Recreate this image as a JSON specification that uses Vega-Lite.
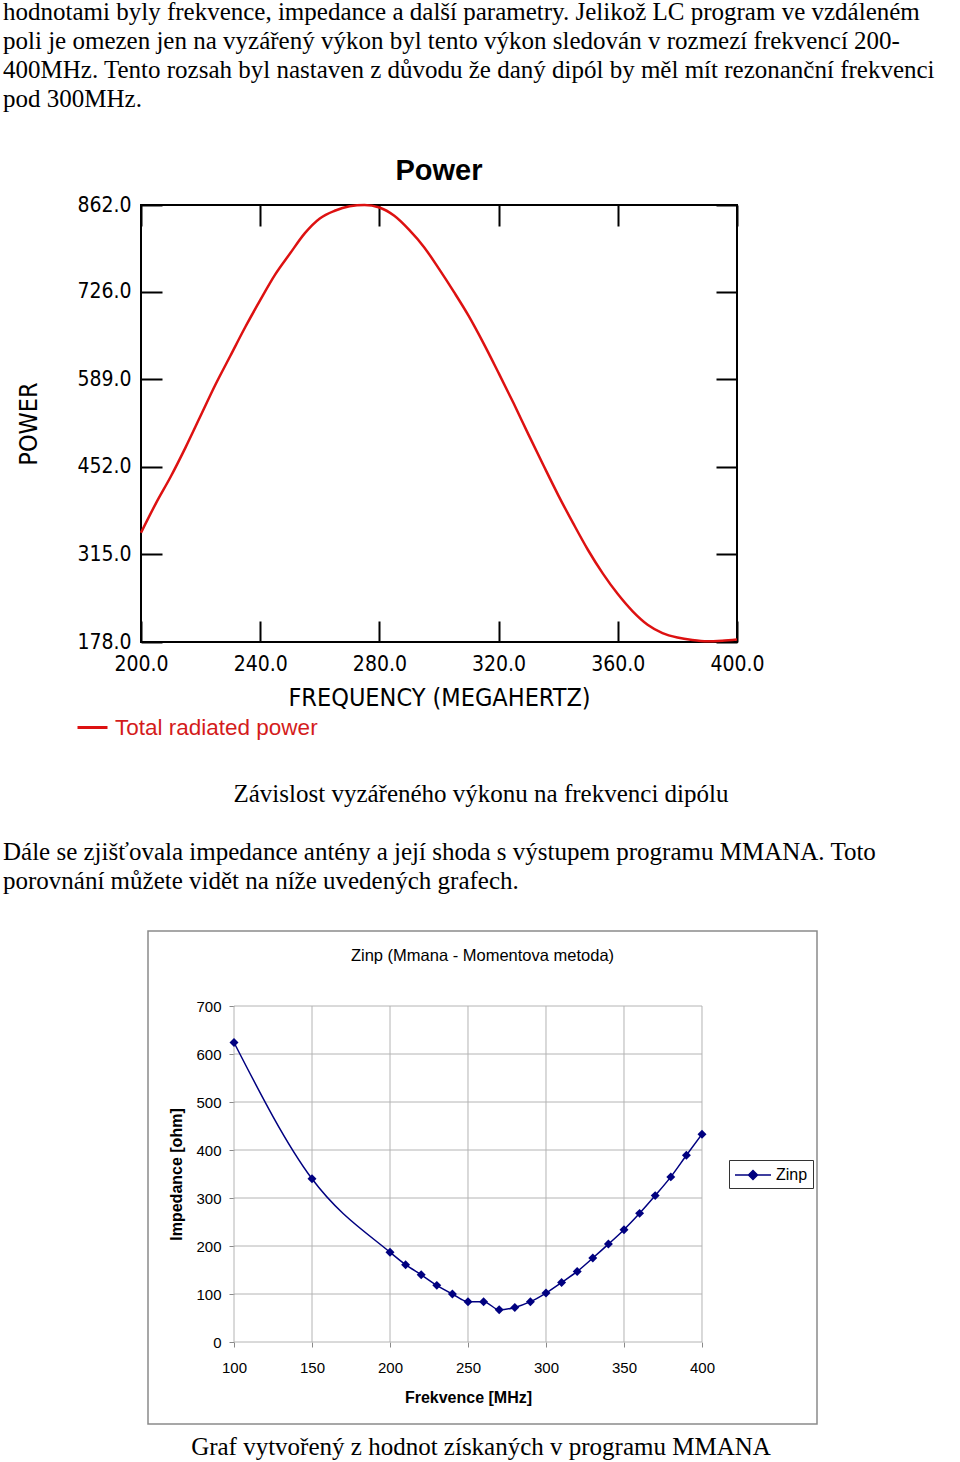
{
  "$schema": "https://vega.github.io/schema/vega-lite/v6.json",
  "padding": 0,
  "background": "white",
  "config": {"view": {"stroke": null}},
  "resolve": {"scale": {"color": "independent"}, "legend": {"color": "independent"}},
  "datasets": {
    "power": [
      {"freq": 200, "power": 349, "series": "Total radiated power"},
      {"freq": 205, "power": 395, "series": "Total radiated power"},
      {"freq": 210, "power": 437, "series": "Total radiated power"},
      {"freq": 215, "power": 483, "series": "Total radiated power"},
      {"freq": 220, "power": 532, "series": "Total radiated power"},
      {"freq": 225, "power": 581, "series": "Total radiated power"},
      {"freq": 230, "power": 626, "series": "Total radiated power"},
      {"freq": 235, "power": 671, "series": "Total radiated power"},
      {"freq": 240, "power": 713, "series": "Total radiated power"},
      {"freq": 245, "power": 753, "series": "Total radiated power"},
      {"freq": 250, "power": 786, "series": "Total radiated power"},
      {"freq": 255, "power": 818, "series": "Total radiated power"},
      {"freq": 260, "power": 841, "series": "Total radiated power"},
      {"freq": 265, "power": 853, "series": "Total radiated power"},
      {"freq": 270, "power": 860, "series": "Total radiated power"},
      {"freq": 275, "power": 862, "series": "Total radiated power"},
      {"freq": 280, "power": 858, "series": "Total radiated power"},
      {"freq": 285, "power": 845, "series": "Total radiated power"},
      {"freq": 290, "power": 823, "series": "Total radiated power"},
      {"freq": 295, "power": 796, "series": "Total radiated power"},
      {"freq": 300, "power": 762, "series": "Total radiated power"},
      {"freq": 305, "power": 726, "series": "Total radiated power"},
      {"freq": 310, "power": 688, "series": "Total radiated power"},
      {"freq": 315, "power": 645, "series": "Total radiated power"},
      {"freq": 320, "power": 599, "series": "Total radiated power"},
      {"freq": 325, "power": 552, "series": "Total radiated power"},
      {"freq": 330, "power": 503, "series": "Total radiated power"},
      {"freq": 335, "power": 455, "series": "Total radiated power"},
      {"freq": 340, "power": 408, "series": "Total radiated power"},
      {"freq": 345, "power": 364, "series": "Total radiated power"},
      {"freq": 350, "power": 322, "series": "Total radiated power"},
      {"freq": 355, "power": 285, "series": "Total radiated power"},
      {"freq": 360, "power": 253, "series": "Total radiated power"},
      {"freq": 365, "power": 226, "series": "Total radiated power"},
      {"freq": 370, "power": 205, "series": "Total radiated power"},
      {"freq": 375, "power": 192, "series": "Total radiated power"},
      {"freq": 380, "power": 185, "series": "Total radiated power"},
      {"freq": 385, "power": 181, "series": "Total radiated power"},
      {"freq": 390, "power": 179, "series": "Total radiated power"},
      {"freq": 395, "power": 180, "series": "Total radiated power"},
      {"freq": 400, "power": 182, "series": "Total radiated power"}
    ],
    "zinp": [
      {"f": 100, "z": 624, "series": "Zinp"},
      {"f": 150, "z": 340, "series": "Zinp"},
      {"f": 200, "z": 187, "series": "Zinp"},
      {"f": 210, "z": 161, "series": "Zinp"},
      {"f": 220, "z": 140, "series": "Zinp"},
      {"f": 230, "z": 118, "series": "Zinp"},
      {"f": 240, "z": 100, "series": "Zinp"},
      {"f": 250, "z": 84, "series": "Zinp"},
      {"f": 260, "z": 84, "series": "Zinp"},
      {"f": 270, "z": 67, "series": "Zinp"},
      {"f": 280, "z": 72, "series": "Zinp"},
      {"f": 290, "z": 84, "series": "Zinp"},
      {"f": 300, "z": 102, "series": "Zinp"},
      {"f": 310, "z": 124, "series": "Zinp"},
      {"f": 320, "z": 147, "series": "Zinp"},
      {"f": 330, "z": 175, "series": "Zinp"},
      {"f": 340, "z": 204, "series": "Zinp"},
      {"f": 350, "z": 234, "series": "Zinp"},
      {"f": 360, "z": 268, "series": "Zinp"},
      {"f": 370, "z": 305, "series": "Zinp"},
      {"f": 380, "z": 344, "series": "Zinp"},
      {"f": 390, "z": 389, "series": "Zinp"},
      {"f": 400, "z": 433, "series": "Zinp"}
    ],
    "xgrid": [{"v": 100}, {"v": 150}, {"v": 200}, {"v": 250}, {"v": 300}, {"v": 350}, {"v": 400}],
    "ygrid": [{"v": 0}, {"v": 100}, {"v": 200}, {"v": 300}, {"v": 400}, {"v": 500}, {"v": 600}, {"v": 700}]
  },
  "title": {
    "text": [
      "hodnotami byly frekvence, impedance a další parametry. Jelikož LC program ve vzdáleném",
      "poli je omezen jen na vyzářený výkon byl tento výkon sledován v rozmezí frekvencí 200-",
      "400MHz. Tento rozsah byl nastaven z důvodu že daný dipól by měl mít rezonanční frekvenci",
      "pod 300MHz."
    ],
    "anchor": "start",
    "frame": "group",
    "dx": 3,
    "font": "Liberation Serif",
    "fontSize": 25,
    "fontWeight": "normal",
    "lineHeight": 29,
    "color": "#000000",
    "offset": 44
  },
  "spacing": 33,
  "vconcat": [
    {
      "resolve": {"scale": {"color": "independent"}, "legend": {"color": "independent"}},
      "title": {
        "text": "Závislost vyzářeného výkonu na frekvenci dipólu",
        "orient": "bottom",
        "anchor": "start",
        "frame": "group",
        "align": "center",
        "dx": 481,
        "font": "Liberation Serif",
        "fontSize": 25,
        "fontWeight": "normal",
        "color": "#000000",
        "offset": 42
      },
      "spacing": 0,
      "hconcat": [
        {"width": 15, "height": 1, "mark": "point", "data": {"values": []}},
        {
          "width": 596,
          "height": 437,
          "view": {"stroke": "#000000", "strokeWidth": 2},
          "title": {
            "text": "Power",
            "font": "Liberation Sans",
            "fontSize": 29,
            "fontWeight": "bold",
            "anchor": "middle",
            "frame": "group",
            "baseline": "alphabetic",
            "offset": -15,
            "color": "#000000"
          },
          "data": {"name": "power"},
          "mark": {"type": "line", "strokeWidth": 2.5, "interpolate": "monotone"},
          "encoding": {
            "x": {
              "field": "freq",
              "type": "quantitative",
              "scale": {"domain": [200, 400], "nice": false, "zero": false},
              "axis": {
                "values": [200, 240, 280, 320, 360, 400],
                "format": ".1f",
                "grid": true,
                "gridDash": [21, 395, 21],
                "gridColor": "#000000",
                "gridWidth": 2,
                "gridOpacity": 1,
                "ticks": false,
                "domain": false,
                "labelFont": "DejaVu Sans Condensed, sans-serif",
                "labelFontSize": 21,
                "labelColor": "#000000",
                "labelPadding": 11,
                "labelFlush": false,
                "labelOverlap": false,
                "title": "FREQUENCY (MEGAHERTZ)",
                "titleFont": "DejaVu Sans Condensed, sans-serif",
                "titleFontSize": 25,
                "titleFontWeight": "normal",
                "titleColor": "#000000",
                "titlePadding": 11
              }
            },
            "y": {
              "field": "power",
              "type": "quantitative",
              "scale": {"domain": [178, 862], "nice": false, "zero": false},
              "axis": {
                "values": [178, 315, 452, 589, 726, 862],
                "format": ".1f",
                "grid": true,
                "gridDash": [21, 554, 21],
                "gridColor": "#000000",
                "gridWidth": 2,
                "gridOpacity": 1,
                "ticks": false,
                "domain": false,
                "labelFont": "DejaVu Sans Condensed, sans-serif",
                "labelFontSize": 21,
                "labelColor": "#000000",
                "labelPadding": 10,
                "labelFlush": false,
                "labelOverlap": false,
                "title": "POWER",
                "titleFont": "DejaVu Sans Condensed, sans-serif",
                "titleFontSize": 25,
                "titleFontWeight": "normal",
                "titleColor": "#000000",
                "titlePadding": 35
              }
            },
            "color": {
              "field": "series",
              "type": "nominal",
              "scale": {"range": ["#dd1111"]},
              "legend": {
                "orient": "none",
                "legendX": -65,
                "legendY": 506,
                "title": null,
                "padding": 0,
                "symbolType": "stroke",
                "symbolSize": 900,
                "symbolStrokeWidth": 3,
                "labelFont": "Liberation Sans",
                "labelFontSize": 22.5,
                "labelColor": "#d41c1c",
                "labelOffset": 6,
                "labelLimit": 400
              }
            }
          }
        }
      ]
    },
    {
      "resolve": {"scale": {"color": "independent"}, "legend": {"color": "independent"}},
      "title": {
        "text": [
          "Dále se zjišťovala impedance antény a její shoda s výstupem programu MMANA. Toto",
          "porovnání můžete vidět na níže uvedených grafech."
        ],
        "anchor": "start",
        "frame": "group",
        "dx": 3,
        "font": "Liberation Serif",
        "fontSize": 25,
        "fontWeight": "normal",
        "lineHeight": 29,
        "color": "#000000",
        "offset": 36
      },
      "vconcat": [
        {
          "resolve": {"scale": {"color": "independent"}, "legend": {"color": "independent"}},
          "title": {
            "text": "Graf vytvořený z hodnot získaných v programu MMANA",
            "orient": "bottom",
            "anchor": "start",
            "frame": "group",
            "align": "center",
            "dx": 481,
            "font": "Liberation Serif",
            "fontSize": 25,
            "fontWeight": "normal",
            "color": "#000000",
            "offset": 10
          },
          "spacing": 0,
          "hconcat": [
            {"width": 147, "height": 1, "mark": "point", "data": {"values": []}},
            {
              "width": 669,
              "height": 493,
              "view": {"stroke": "#8a8a8a", "strokeWidth": 1.5},
              "title": {
                "text": "Zinp (Mmana - Momentova metoda)",
                "font": "Liberation Sans",
                "fontSize": 16.5,
                "fontWeight": "normal",
                "anchor": "middle",
                "frame": "group",
                "baseline": "alphabetic",
                "offset": -46,
                "color": "#000000"
              },
              "layer": [
                {
                  "data": {"name": "xgrid"},
                  "mark": {"type": "rule", "color": "#b4b4b4", "strokeWidth": 1},
                  "encoding": {
                    "x": {"field": "v", "type": "quantitative", "scale": {"domain": [44.87, 473.72], "nice": false, "zero": false},
                      "axis": {"orient": "bottom", "offset": -82, "values": [100, 150, 200, 250, 300, 350, 400], "grid": false, "domain": false, "ticks": true, "tickSize": 5, "tickColor": "#8a8a8a", "tickWidth": 1, "labelFont": "Liberation Sans", "labelFontSize": 15, "labelColor": "#000000", "labelPadding": 13, "labelFlush": false, "labelOverlap": false, "title": "Frekvence [MHz]", "titleFont": "Liberation Sans", "titleFontSize": 16, "titleFontWeight": "bold", "titleColor": "#000000", "titlePadding": 14, "titleX": 320}},
                    "y": {"datum": 0, "type": "quantitative", "scale": {"domain": [-170.83, 856.25], "nice": false, "zero": false},
                      "axis": {"orient": "left", "offset": -86, "values": [0, 100, 200, 300, 400, 500, 600, 700], "grid": false, "domain": false, "ticks": true, "tickSize": 5, "tickColor": "#8a8a8a", "tickWidth": 1, "labelFont": "Liberation Sans", "labelFontSize": 15, "labelColor": "#000000", "labelPadding": 8, "labelFlush": false, "labelOverlap": false, "title": "Impedance [ohm]", "titleFont": "Liberation Sans", "titleFontSize": 16, "titleFontWeight": "bold", "titleColor": "#000000", "titlePadding": 11, "titleY": 243}},
                    "y2": {"datum": 700}
                  }
                },
                {
                  "data": {"name": "ygrid"},
                  "mark": {"type": "rule", "color": "#b4b4b4", "strokeWidth": 1},
                  "encoding": {
                    "y": {"field": "v", "type": "quantitative", "scale": {"domain": [-170.83, 856.25], "nice": false, "zero": false},
                      "axis": {"orient": "left", "offset": -86, "values": [0, 100, 200, 300, 400, 500, 600, 700], "grid": false, "domain": false, "ticks": true, "tickSize": 5, "tickColor": "#8a8a8a", "tickWidth": 1, "labelFont": "Liberation Sans", "labelFontSize": 15, "labelColor": "#000000", "labelPadding": 8, "labelFlush": false, "labelOverlap": false, "title": "Impedance [ohm]", "titleFont": "Liberation Sans", "titleFontSize": 16, "titleFontWeight": "bold", "titleColor": "#000000", "titlePadding": 11, "titleY": 243}},
                    "x": {"datum": 100, "type": "quantitative", "scale": {"domain": [44.87, 473.72], "nice": false, "zero": false},
                      "axis": {"orient": "bottom", "offset": -82, "values": [100, 150, 200, 250, 300, 350, 400], "grid": false, "domain": false, "ticks": true, "tickSize": 5, "tickColor": "#8a8a8a", "tickWidth": 1, "labelFont": "Liberation Sans", "labelFontSize": 15, "labelColor": "#000000", "labelPadding": 13, "labelFlush": false, "labelOverlap": false, "title": "Frekvence [MHz]", "titleFont": "Liberation Sans", "titleFontSize": 16, "titleFontWeight": "bold", "titleColor": "#000000", "titlePadding": 14, "titleX": 320}},
                    "x2": {"datum": 400}
                  }
                },
                {
                  "data": {"name": "zinp"},
                  "mark": {"type": "line", "strokeWidth": 1.5, "interpolate": "monotone"},
                  "encoding": {
                    "x": {"field": "f", "type": "quantitative", "scale": {"domain": [44.87, 473.72], "nice": false, "zero": false},
                      "axis": {"orient": "bottom", "offset": -82, "values": [100, 150, 200, 250, 300, 350, 400], "grid": false, "domain": false, "ticks": true, "tickSize": 5, "tickColor": "#8a8a8a", "tickWidth": 1, "labelFont": "Liberation Sans", "labelFontSize": 15, "labelColor": "#000000", "labelPadding": 13, "labelFlush": false, "labelOverlap": false, "title": "Frekvence [MHz]", "titleFont": "Liberation Sans", "titleFontSize": 16, "titleFontWeight": "bold", "titleColor": "#000000", "titlePadding": 14, "titleX": 320}},
                    "y": {"field": "z", "type": "quantitative", "scale": {"domain": [-170.83, 856.25], "nice": false, "zero": false},
                      "axis": {"orient": "left", "offset": -86, "values": [0, 100, 200, 300, 400, 500, 600, 700], "grid": false, "domain": false, "ticks": true, "tickSize": 5, "tickColor": "#8a8a8a", "tickWidth": 1, "labelFont": "Liberation Sans", "labelFontSize": 15, "labelColor": "#000000", "labelPadding": 8, "labelFlush": false, "labelOverlap": false, "title": "Impedance [ohm]", "titleFont": "Liberation Sans", "titleFontSize": 16, "titleFontWeight": "bold", "titleColor": "#000000", "titlePadding": 11, "titleY": 243}},
                    "color": {
                      "field": "series",
                      "type": "nominal",
                      "scale": {"range": ["#000080"]},
                      "legend": {
                        "orient": "none",
                        "legendX": 581,
                        "legendY": 229,
                        "title": null,
                        "padding": 5,
                        "strokeColor": "#333333",
                        "fillColor": "#ffffff",
                        "symbolType": "M-1,0H3M1,-0.5L1.5,0L1,0.5L0.5,0Z",
                        "symbolSize": 324,
                        "symbolStrokeWidth": 1.5,
                        "labelFont": "Liberation Sans",
                        "labelFontSize": 16,
                        "labelColor": "#000000",
                        "labelOffset": 22,
                        "encode": {
                          "symbols": {
                            "update": {
                              "fill": {"value": "#000080"},
                              "stroke": {"value": "#000080"},
                              "opacity": {"value": 1}
                            }
                          }
                        }
                      }
                    }
                  }
                },
                {
                  "data": {"name": "zinp"},
                  "mark": {"type": "point", "shape": "diamond", "filled": true, "size": 80, "opacity": 1, "color": "#000080"},
                  "encoding": {
                    "x": {"field": "f", "type": "quantitative", "scale": {"domain": [44.87, 473.72], "nice": false, "zero": false},
                      "axis": {"orient": "bottom", "offset": -82, "values": [100, 150, 200, 250, 300, 350, 400], "grid": false, "domain": false, "ticks": true, "tickSize": 5, "tickColor": "#8a8a8a", "tickWidth": 1, "labelFont": "Liberation Sans", "labelFontSize": 15, "labelColor": "#000000", "labelPadding": 13, "labelFlush": false, "labelOverlap": false, "title": "Frekvence [MHz]", "titleFont": "Liberation Sans", "titleFontSize": 16, "titleFontWeight": "bold", "titleColor": "#000000", "titlePadding": 14, "titleX": 320}},
                    "y": {"field": "z", "type": "quantitative", "scale": {"domain": [-170.83, 856.25], "nice": false, "zero": false},
                      "axis": {"orient": "left", "offset": -86, "values": [0, 100, 200, 300, 400, 500, 600, 700], "grid": false, "domain": false, "ticks": true, "tickSize": 5, "tickColor": "#8a8a8a", "tickWidth": 1, "labelFont": "Liberation Sans", "labelFontSize": 15, "labelColor": "#000000", "labelPadding": 8, "labelFlush": false, "labelOverlap": false, "title": "Impedance [ohm]", "titleFont": "Liberation Sans", "titleFontSize": 16, "titleFontWeight": "bold", "titleColor": "#000000", "titlePadding": 11, "titleY": 243}}
                  }
                }
              ]
            }
          ]
        }
      ]
    }
  ]
}
